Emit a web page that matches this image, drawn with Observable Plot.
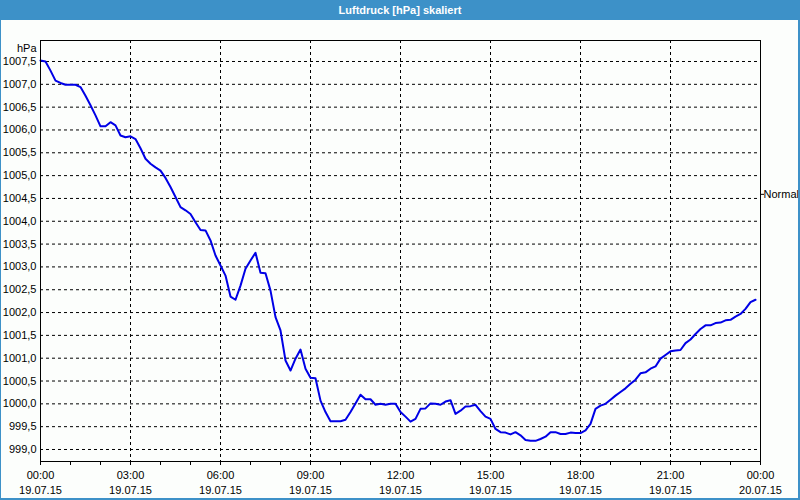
<!DOCTYPE html>
<html><head><meta charset="utf-8">
<script src="https://cdn.jsdelivr.net/npm/d3@7"></script>
<script src="https://cdn.jsdelivr.net/npm/@observablehq/plot@0.6"></script>
<style>
html,body{margin:0;padding:0;background:#fff;}
#wrap{position:relative;width:800px;height:500px;background:#fcfefc;overflow:hidden;font-family:"Liberation Sans",Arial,sans-serif;}
#title{position:absolute;left:0;top:0;width:800px;height:20px;background:#3d91c8;color:#fff;font-weight:bold;font-size:11px;line-height:21px;text-align:center;}
#chart{position:absolute;left:0;top:20px;}
#chart svg{overflow:visible;}
#border{position:absolute;left:0;top:0;width:800px;height:500px;box-sizing:border-box;border-left:1px solid #3d91c8;border-right:2px solid #3d91c8;border-bottom:2px solid #3d91c8;pointer-events:none;}
</style></head>
<body>
<div id="wrap">
  <div id="title">Luftdruck [hPa] skaliert</div>
  <div id="chart"></div>
  <div id="border"></div>
</div>
<script>
const chartTitle = "Luftdruck [hPa] skaliert";
const unitLabel = "hPa";
const normalLabel = "Normal";
const normalLevel = 1004.59;
const day = "2015-07-19";

const times = [
"00:00","00:10","00:20","00:30","00:40","00:50","01:00","01:10","01:20","01:30","01:40","01:50",
"02:00","02:10","02:20","02:30","02:40","02:50","03:00","03:10","03:20","03:30","03:40","03:50",
"04:00","04:10","04:20","04:30","04:40","04:50","05:00","05:10","05:20","05:30","05:40","05:50",
"06:00","06:10","06:20","06:30","06:40","06:50","07:00","07:10","07:20","07:30","07:40","07:50",
"08:00","08:10","08:20","08:30","08:40","08:50","09:00","09:10","09:20","09:30","09:40","09:50",
"10:00","10:10","10:20","10:30","10:40","10:50","11:00","11:10","11:20","11:30","11:40","11:50",
"12:00","12:10","12:20","12:30","12:40","12:50","13:00","13:10","13:20","13:30","13:40","13:50",
"14:00","14:10","14:20","14:30","14:40","14:50","15:00","15:10","15:20","15:30","15:40","15:50",
"16:00","16:10","16:20","16:30","16:40","16:50","17:00","17:10","17:20","17:30","17:40","17:50",
"18:00","18:10","18:20","18:30","18:40","18:50","19:00","19:10","19:20","19:30","19:40","19:50",
"20:00","20:10","20:20","20:30","20:40","20:50","21:00","21:10","21:20","21:30","21:40","21:50",
"22:00","22:10","22:20","22:30","22:40","22:50","23:00","23:10","23:20","23:30","23:40","23:50"
];
const pressure = [
1007.52,1007.50,1007.30,1007.08,1007.03,1006.99,1006.99,1006.99,1006.94,1006.75,1006.54,1006.32,
1006.08,1006.08,1006.17,1006.10,1005.88,1005.84,1005.86,1005.80,1005.60,1005.37,1005.26,1005.18,
1005.11,1004.95,1004.75,1004.53,1004.31,1004.24,1004.16,1003.98,1003.81,1003.80,1003.58,1003.25,
1003.03,1002.81,1002.35,1002.28,1002.59,1002.96,1003.14,1003.31,1002.87,1002.86,1002.48,1001.90,
1001.61,1000.95,1000.73,1000.99,1001.19,1000.77,1000.57,1000.56,1000.07,999.82,999.62,999.62,
999.62,999.65,999.82,1000.01,1000.20,1000.10,1000.10,999.98,1000.00,999.98,1000.00,1000.00,
999.82,999.72,999.61,999.67,999.89,999.90,1000.01,1000.00,999.98,1000.05,1000.08,999.78,
999.85,999.94,999.95,999.98,999.84,999.72,999.67,999.45,999.38,999.37,999.33,999.38,
999.31,999.21,999.19,999.19,999.23,999.28,999.38,999.38,999.34,999.34,999.37,999.36,
999.36,999.42,999.56,999.89,999.96,1000.00,1000.09,1000.18,1000.26,1000.34,1000.44,1000.53,
1000.67,1000.69,1000.77,1000.82,1000.99,1001.07,1001.15,1001.17,1001.18,1001.33,1001.41,1001.53,
1001.64,1001.72,1001.72,1001.77,1001.78,1001.83,1001.84,1001.91,1001.97,1002.08,1002.23,1002.28
];

const yTicks = [999,999.5,1000,1000.5,1001,1001.5,1002,1002.5,1003,1003.5,1004,1004.5,1005,1005.5,1006,1006.5,1007,1007.5];
const xTickStamps = ["2015-07-19T00:00","2015-07-19T03:00","2015-07-19T06:00","2015-07-19T09:00","2015-07-19T12:00","2015-07-19T15:00","2015-07-19T18:00","2015-07-19T21:00","2015-07-20T00:00"];
const xTickTimeLabels = ["00:00","03:00","06:00","09:00","12:00","15:00","18:00","21:00","00:00"];
const xTickDateLabels = ["19.07.15","19.07.15","19.07.15","19.07.15","19.07.15","19.07.15","19.07.15","19.07.15","20.07.15"];

const parse = s => new Date(s + ":00Z");
const data = times.map((t, i) => ({t: parse(day + "T" + t), p: pressure[i]}));
const xTicks = xTickStamps.map(parse);
const innerTicks = xTicks.slice(1, -1);
const idx = d => xTicks.findIndex(x => +x === +d);

const font = "'Liberation Sans', Arial, sans-serif";
const chart = Plot.plot({
  width: 800, height: 480,
  marginTop: 20, marginBottom: 39, marginLeft: 40, marginRight: 40,
  style: {fontFamily: font, fontSize: "11px", color: "#000", background: "transparent", overflow: "visible"},
  x: {type: "utc", domain: [xTicks[0], xTicks[xTicks.length - 1]]},
  y: {domain: [998.737, 1007.96]},
  marks: [
    Plot.ruleY(yTicks, {stroke: "#000", strokeOpacity: 1, strokeDasharray: "3,3"}),
    Plot.ruleX(innerTicks, {stroke: "#000", strokeOpacity: 1, strokeDasharray: "3,3"}),
    Plot.line(data, {x: "t", y: "p", stroke: "#0000e6", strokeWidth: 2}),
    Plot.frame({stroke: "#000"}),
    Plot.axisY({ticks: yTicks, tickSize: 0, tickPadding: 4, label: null,
      tickFormat: d => d.toFixed(1).replace(".", ",")}),
    Plot.axisY({anchor: "right", ticks: [normalLevel], tickSize: 3, tickPadding: 0, label: null,
      tickFormat: () => normalLabel}),
    Plot.axisX({ticks: d3.utcHour, tickSize: 4, tickFormat: () => "", label: null}),
    Plot.axisX({ticks: xTicks, tickSize: 0, tickPadding: 10, label: null,
      tickFormat: d => xTickTimeLabels[idx(d)]}),
    Plot.axisX({ticks: xTicks, tickSize: 0, tickPadding: 25, label: null,
      tickFormat: d => xTickDateLabels[idx(d)]}),
    Plot.text([unitLabel], {frameAnchor: "top-left", text: d => d, textAnchor: "end", dx: -4, dy: 4})
  ]
});
document.getElementById("chart").appendChild(chart);
</script>
</body></html>
